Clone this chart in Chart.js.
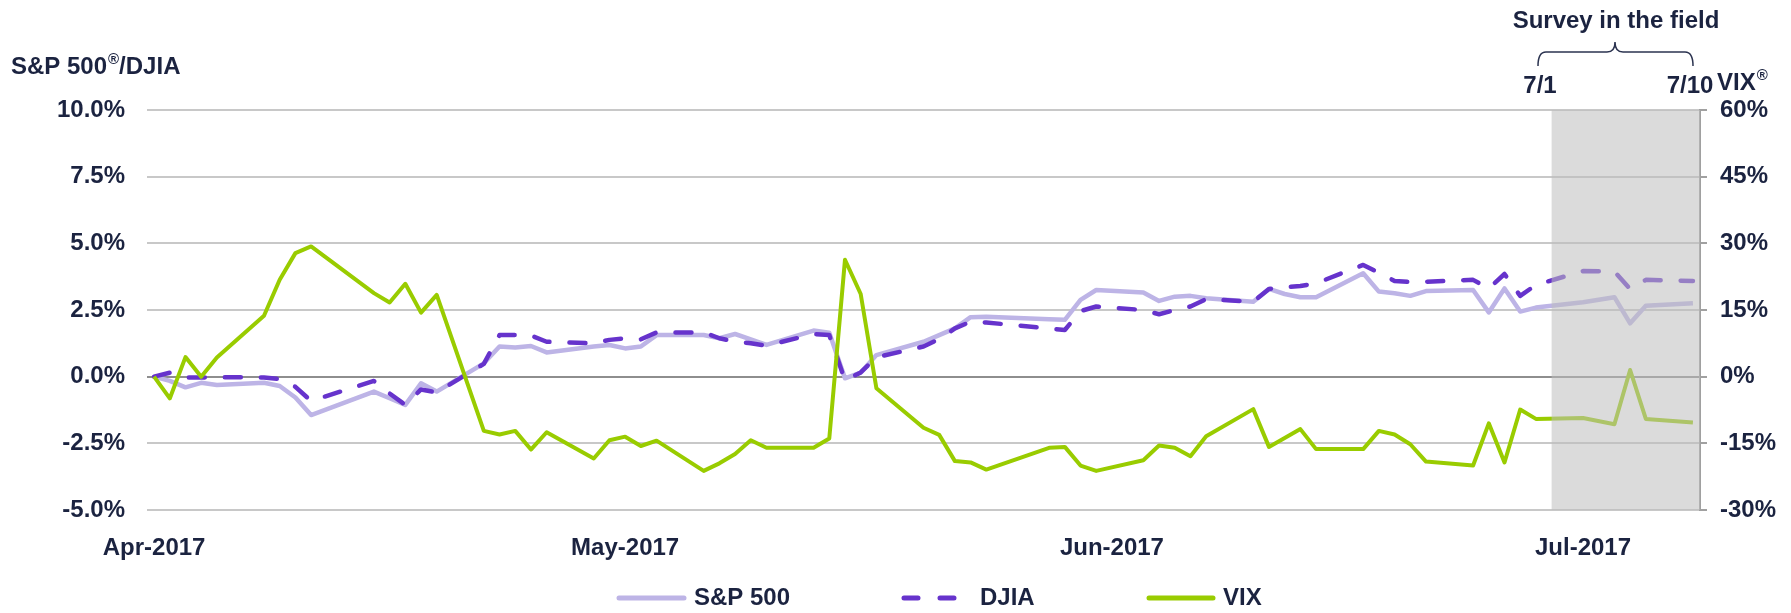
<!DOCTYPE html>
<html>
<head>
<meta charset="utf-8">
<script src="https://cdn.jsdelivr.net/npm/chart.js@4.4.1/dist/chart.umd.min.js"></script>
<style>
  html, body { margin: 0; padding: 0; background: #fff; }
  #wrap { width: 1791px; height: 613px; position: relative; }
</style>
</head>
<body>
<div id="wrap"><canvas id="chart" width="1791" height="613"></canvas></div>
<script>
// trading days, as calendar days counted from 3 Apr 2017
const days = [0, 1, 2, 3, 4, 7, 8, 9, 10, 14, 15, 16, 17, 18, 21, 22, 23, 24, 25,
  28, 29, 30, 31, 32, 35, 36, 37, 38, 39, 42, 43, 44, 45, 46, 49, 50, 51, 52, 53, 57, 58,
  59, 60, 63, 64, 65, 66, 67, 70, 71, 72, 73, 74, 77, 78, 79, 80, 81, 84, 85, 86, 87, 88,
  91, 93, 94, 95, 98];

// % change since start (left axis)
const sp500 = [0, -0.16, -0.4, -0.23, -0.31, -0.23, -0.35, -0.78, -1.44, -0.56, -0.81, -1.06, -0.25, -0.56, 0.5, 1.13, 1.09, 1.15, 0.91,
  1.13, 1.19, 1.06, 1.13, 1.56, 1.56, 1.44, 1.6, 1.4, 1.19, 1.73, 1.65, -0.06, 0.15, 0.81, 1.31, 1.56, 1.81, 2.23, 2.25, 2.15, 2.13,
  2.88, 3.25, 3.16, 2.84, 3.0, 3.03, 2.94, 2.81, 3.29, 3.1, 2.98, 2.98, 3.88, 3.19, 3.13, 3.03, 3.21, 3.25, 2.41, 3.31, 2.44, 2.59,
  2.79, 2.98, 2.0, 2.66, 2.75];

const djia = [0, 0.15, -0.03, -0.03, -0.02, -0.03, -0.09, -0.38, -0.91, -0.16, -0.63, -1.06, -0.48, -0.59, 0.48, 1.56, 1.56, 1.54, 1.31,
  1.25, 1.38, 1.44, 1.4, 1.66, 1.66, 1.44, 1.31, 1.25, 1.16, 1.6, 1.56, -0.13, 0.16, 0.73, 1.13, 1.41, 1.81, 2.06, 2.03, 1.81, 1.75,
  2.46, 2.63, 2.5, 2.34, 2.5, 2.63, 2.91, 2.81, 3.29, 3.35, 3.4, 3.5, 4.19, 3.9, 3.59, 3.55, 3.56, 3.63, 3.31, 3.85, 3.03, 3.44,
  3.96, 3.94, 3.29, 3.63, 3.59];

// % change since start (right axis)
const vix = [0, -4.9, 4.4, 0, 4.3, 13.7, 21.8, 27.8, 29.3, 18.8, 16.7, 20.9, 14.4, 18.4, -12.2, -13.0, -12.2, -16.4, -12.5,
  -18.4, -14.3, -13.5, -15.6, -14.4, -21.2, -19.5, -17.4, -14.3, -16.0, -16.0, -13.9, 26.3, 18.6, -2.6, -11.5, -13.1, -19.0, -19.3, -20.9, -16.0, -15.8,
  -20.0, -21.2, -18.8, -15.5, -16.0, -17.9, -13.4, -7.3, -15.8, -13.8, -11.8, -16.3, -16.3, -12.2, -13.0, -15.2, -19.1, -20.0, -10.5, -19.3, -7.4, -9.5,
  -9.3, -10.7, 1.5, -9.5, -10.3];

const xTickDays = [0, 30, 61, 91];
const xTickLabels = ['Apr-2017', 'May-2017', 'Jun-2017', 'Jul-2017'];
const surveyFrom = 89;   // 7/1
const seriesNames = ['S&P 500', 'DJIA', 'VIX'];

const TEXT = '#1b2340';
const FONT = "'Liberation Sans', Arial, sans-serif";
const C_SP = '#bdb4e6', C_DJ = '#6633cc', C_VIX = '#99cc00';

function pts(arr) { return days.map((d, i) => ({ x: d, y: arr[i] })); }

// text with a superscript ® in the middle
function drawReg(ctx, before, after, x, y) {
  ctx.font = 'bold 24px ' + FONT;
  ctx.fillText(before, x, y);
  let w = ctx.measureText(before).width;
  ctx.font = 'bold 15px ' + FONT;
  ctx.fillText('\u00AE', x + w + 1, y - 7);
  w += ctx.measureText('\u00AE').width + 1;
  ctx.font = 'bold 24px ' + FONT;
  if (after) ctx.fillText(after, x + w, y);
}

const extras = {
  id: 'extras',
  afterDatasetsDraw(chart) {
    const { ctx, chartArea: a, scales: { x } } = chart;
    const x0 = x.getPixelForValue(surveyFrom);
    ctx.save();
    ctx.fillStyle = 'rgba(190,190,190,0.55)';
    ctx.fillRect(x0, a.top, a.right - x0, a.bottom - a.top);
    ctx.restore();
  },
  afterDraw(chart) {
    const ctx = chart.ctx;
    ctx.save();
    ctx.fillStyle = TEXT;
    ctx.textBaseline = 'middle';
    ctx.textAlign = 'left';
    drawReg(ctx, 'S&P 500', '/DJIA', 11, 67);
    drawReg(ctx, 'VIX', '', 1717, 83);

    ctx.font = 'bold 24px ' + FONT;
    ctx.textAlign = 'center';
    ctx.fillText('Survey in the field', 1616, 21);
    ctx.fillText('7/1', 1540, 86);
    ctx.fillText('7/10', 1690, 86);

    // brace
    ctx.strokeStyle = '#2b3350';
    ctx.lineWidth = 1.5;
    ctx.beginPath();
    ctx.moveTo(1538, 66);
    ctx.quadraticCurveTo(1538, 52, 1546, 52);
    ctx.lineTo(1607, 52);
    ctx.quadraticCurveTo(1615, 52, 1615, 42);
    ctx.quadraticCurveTo(1615, 52, 1623, 52);
    ctx.lineTo(1685, 52);
    ctx.quadraticCurveTo(1693, 52, 1693, 66);
    ctx.stroke();

    // legend
    const ly = 598;
    ctx.lineWidth = 5;
    ctx.lineCap = 'round';
    ctx.strokeStyle = C_SP;
    ctx.beginPath(); ctx.moveTo(619, ly); ctx.lineTo(684, ly); ctx.stroke();
    ctx.strokeStyle = C_DJ;
    ctx.setLineDash([14, 22]);
    ctx.beginPath(); ctx.moveTo(904, ly); ctx.lineTo(954, ly); ctx.stroke();
    ctx.setLineDash([]);
    ctx.strokeStyle = C_VIX;
    ctx.beginPath(); ctx.moveTo(1149, ly); ctx.lineTo(1213, ly); ctx.stroke();
    ctx.textAlign = 'left';
    ctx.fillStyle = TEXT;
    ctx.fillText(seriesNames[0], 694, ly);
    ctx.fillText(seriesNames[1], 980, ly);
    ctx.fillText(seriesNames[2], 1223, ly);
    ctx.restore();
  }
};

const tickFont = { family: FONT, size: 24, weight: 'bold' };

new Chart(document.getElementById('chart'), {
  type: 'line',
  data: {
    datasets: [
      { label: seriesNames[0], data: pts(sp500), yAxisID: 'y', borderColor: C_SP, borderWidth: 4.5, order: 3 },
      { label: seriesNames[1], data: pts(djia), yAxisID: 'y', borderColor: C_DJ, borderWidth: 4.5,
        borderDash: [16, 20], borderCapStyle: 'round', order: 2 },
      { label: seriesNames[2], data: pts(vix), yAxisID: 'y2', borderColor: C_VIX, borderWidth: 4, order: 1 }
    ]
  },
  options: {
    responsive: false,
    animation: false,
    devicePixelRatio: 1,
    layout: { padding: { top: 110, bottom: 0, left: 0, right: 0 } },
    elements: { point: { radius: 0 }, line: { tension: 0, borderJoinStyle: 'round', fill: false } },
    plugins: { legend: { display: false }, tooltip: { enabled: false } },
    scales: {
      x: {
        type: 'linear', min: -0.45, max: 98.45,
        afterBuildTicks: s => { s.ticks = xTickDays.map(v => ({ value: v })); },
        afterFit: s => { s.height = 103; },
        grid: { display: false }, border: { display: false },
        ticks: { autoSkip: false, maxRotation: 0, padding: 16, color: TEXT, font: tickFont,
          callback: (v, i) => xTickLabels[i] }
      },
      y: {
        position: 'left', min: -5, max: 10,
        afterFit: s => { s.width = 147; },
        border: { display: false },
        grid: { drawTicks: false, lineWidth: 2,
          color: c => (c.tick && c.tick.value === 0) ? '#8e8e8e' : '#c8c8c8' },
        ticks: { stepSize: 2.5, padding: 22, color: TEXT, font: tickFont,
          callback: v => v.toFixed(1) + '%' }
      },
      y2: {
        position: 'right', min: -30, max: 60,
        afterFit: s => { s.width = 91; },
        border: { display: true, color: '#a0a0a0', width: 2 },
        grid: { drawOnChartArea: false, drawTicks: true, tickLength: 7, color: '#a0a0a0', lineWidth: 2 },
        ticks: { stepSize: 15, padding: 13, color: TEXT, font: tickFont,
          callback: v => v + '%' }
      }
    }
  },
  plugins: [extras]
});
</script>
</body>
</html>
